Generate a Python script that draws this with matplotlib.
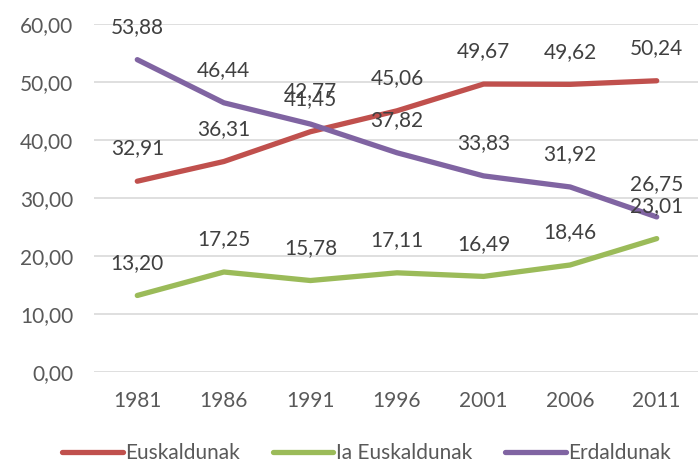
import matplotlib
matplotlib.use('Agg')
import matplotlib.pyplot as plt

plt.rcParams['font.family'] = ['Lato', 'DejaVu Sans']

years = ['1981', '1986', '1991', '1996', '2001', '2006', '2011']
euskaldunak = [32.91, 36.31, 41.45, 45.06, 49.67, 49.62, 50.24]
ia_euskaldunak = [13.20, 17.25, 15.78, 17.11, 16.49, 18.46, 23.01]
erdaldunak = [53.88, 46.44, 42.77, 37.82, 33.83, 31.92, 26.75]
yticks = [0, 10, 20, 30, 40, 50, 60]

series = [
    ('Euskaldunak', euskaldunak, '#C0504D'),
    ('Ia Euskaldunak', ia_euskaldunak, '#9BBB59'),
    ('Erdaldunak', erdaldunak, '#8064A2'),
]

fig = plt.figure(figsize=(6.98, 4.65), dpi=100)
ax = fig.add_axes([94 / 698, 0.2, 606 / 698, 0.748])

x = list(range(len(years)))
for name, vals, col in series:
    ax.plot(x, vals, color=col, lw=3.8, label=name, solid_capstyle='round',
            solid_joinstyle='round', zorder=3)
    for xi, v in zip(x, vals):
        ax.annotate(('%.2f' % v).replace('.', ','), (xi, v), xytext=(0, 23.5),
                    textcoords='offset points', ha='center', va='center',
                    fontsize=15, color='#404040', zorder=4)

ax.set_xlim(-0.5, len(years) - 0.5)
ax.set_ylim(0, 60)
ax.set_yticks(yticks)
ax.set_yticklabels([('%.2f' % t).replace('.', ',') for t in yticks])
ax.set_xticks(x)
ax.set_xticklabels(years)
ax.grid(axis='y', color='#D9D9D9', lw=1.2, zorder=0)
ax.set_axisbelow(True)
for s in ax.spines.values():
    s.set_visible(False)
ax.tick_params(length=0, labelsize=15, colors='#595959')
ax.tick_params(axis='y', pad=15)
ax.tick_params(axis='x', pad=14)

fig.legend(loc='lower center', bbox_to_anchor=(0.525, -0.036), ncol=3,
           frameon=False, fontsize=15, handlelength=2.9, columnspacing=1.6,
           handletextpad=0.1, labelcolor='#595959')

fig.savefig('out.png', dpi=100)
